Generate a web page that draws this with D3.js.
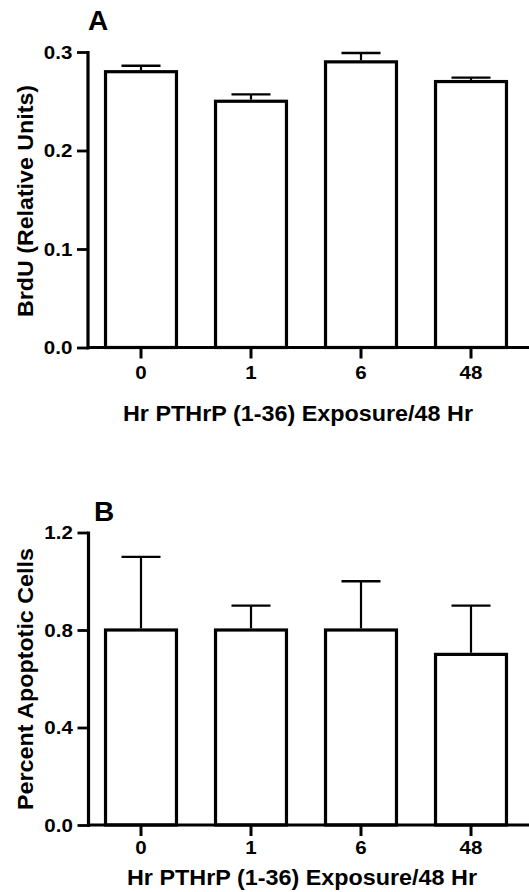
<!DOCTYPE html>
<html>
<head>
<meta charset="utf-8">
<script src="https://cdn.jsdelivr.net/npm/d3@7"></script>
<style>
  html, body { margin: 0; padding: 0; background: #fff; }
  svg { display: block; font-family: "Liberation Sans", Arial, Helvetica, sans-serif; }
</style>
</head>
<body>
<svg id="chart" width="529" height="892"></svg>
<script>
// ---- Data ----
const categories = ["0", "1", "6", "48"];
const brduValues = [0.28, 0.25, 0.29, 0.27];
const brduErrors = [0.006, 0.007, 0.009, 0.004];
const brduTicks = [0, 0.1, 0.2, 0.3];
const apoptosisValues = [0.8, 0.8, 0.8, 0.7];
const apoptosisErrors = [0.3, 0.1, 0.2, 0.2];
const apoptosisTicks = [0, 0.4, 0.8, 1.2];
const panelLetters = ["A", "B"];
const yTitles = ["BrdU (Relative Units)", "Percent Apoptotic Cells"];
const xTitle = "Hr PTHrP (1-36) Exposure/48 Hr";

// ---- Layout ----
const svg = d3.select("#chart");
const W = 529;
const SX = 1.08; // horizontal stretch of the reference glyphs

const panels = [
  { letter: panelLetters[0], values: brduValues, errors: brduErrors, ticks: brduTicks,
    fmt: d3.format(".1f"), yTop: 52, yBottom: 347.5, axisX: 87.5,
    yTitle: yTitles[0], yTitleY: 201, yTitleLen: 232,
    xLabelPad: 7.5, xTitleY: 421, xTitleX: 298, letterX: 88, letterY: 30 },
  { letter: panelLetters[1], values: apoptosisValues, errors: apoptosisErrors, ticks: apoptosisTicks,
    fmt: d3.format(".1f"), yTop: 532.5, yBottom: 825, axisX: 88,
    yTitle: yTitles[1], yTitleY: 679, yTitleLen: 262,
    xLabelPad: 5, xTitleY: 885, xTitleX: 302, letterX: 94, letterY: 521 }
];

panels.forEach(p => {
  const g = svg.append("g");
  const dom = [p.ticks[0], p.ticks[p.ticks.length - 1]];
  const y = d3.scaleLinear().domain(dom).range([p.yBottom, p.yTop]);
  const x = d3.scaleBand().domain(categories).range([86, 526])
    .paddingInner(0.355).paddingOuter(0.1775);

  // bars
  g.selectAll("rect.bar").data(p.values).join("rect")
    .attr("class", "bar")
    .attr("x", (d, i) => x(categories[i]))
    .attr("width", x.bandwidth())
    .attr("y", d => y(d))
    .attr("height", d => y(0) - y(d))
    .attr("fill", "#fff")
    .attr("stroke", "#000")
    .attr("stroke-width", 3.2);

  // error bars (upper only)
  const capW = 39;
  g.selectAll("line.err").data(p.values).join("line")
    .attr("class", "err")
    .attr("x1", (d, i) => x(categories[i]) + x.bandwidth() / 2)
    .attr("x2", (d, i) => x(categories[i]) + x.bandwidth() / 2)
    .attr("y1", d => y(d) - 1.6)
    .attr("y2", (d, i) => y(d + p.errors[i]))
    .attr("stroke", "#000").attr("stroke-width", 2.2);
  g.selectAll("line.cap").data(p.values).join("line")
    .attr("class", "cap")
    .attr("x1", (d, i) => x(categories[i]) + x.bandwidth() / 2 - capW / 2)
    .attr("x2", (d, i) => x(categories[i]) + x.bandwidth() / 2 + capW / 2)
    .attr("y1", (d, i) => y(d + p.errors[i]))
    .attr("y2", (d, i) => y(d + p.errors[i]))
    .attr("stroke", "#000").attr("stroke-width", 2.4);

  // x axis
  const xa = g.append("g").attr("transform", `translate(0,${p.yBottom})`)
    .call(d3.axisBottom(x).tickSize(11).tickPadding(p.xLabelPad).tickSizeOuter(0));
  xa.select(".domain").remove();
  xa.selectAll(".tick line").attr("stroke-width", 3);
  xa.selectAll(".tick text")
    .attr("font-size", 19).attr("font-weight", "bold").attr("fill", "#000")
    .attr("font-family", "Liberation Sans, Arial, sans-serif")
    .attr("transform", `scale(${SX},1)`);
  g.append("line")
    .attr("x1", p.axisX).attr("x2", W)
    .attr("y1", p.yBottom).attr("y2", p.yBottom)
    .attr("stroke", "#000").attr("stroke-width", 3.2);

  // y axis
  const ya = g.append("g").attr("transform", `translate(${p.axisX},0)`)
    .call(d3.axisLeft(y).tickValues(p.ticks).tickFormat(p.fmt)
      .tickSize(10.5).tickPadding(3.5).tickSizeOuter(0));
  ya.select(".domain").attr("stroke-width", 3.2).attr("stroke-linecap", "square");
  ya.selectAll(".tick line").attr("stroke-width", 2.8);
  ya.selectAll(".tick text")
    .attr("font-size", 19).attr("font-weight", "bold").attr("fill", "#000")
    .attr("font-family", "Liberation Sans, Arial, sans-serif")
    .attr("transform", `scale(${SX},1)`);

  // y title
  g.append("text")
    .attr("transform", `translate(33,${p.yTitleY}) rotate(-90)`)
    .attr("text-anchor", "middle")
    .attr("font-size", 22.5).attr("font-weight", "bold")
    .attr("textLength", p.yTitleLen).attr("lengthAdjust", "spacingAndGlyphs")
    .text(p.yTitle);

  // x title
  g.append("text")
    .attr("x", p.xTitleX).attr("y", p.xTitleY)
    .attr("text-anchor", "middle")
    .attr("font-size", 22).attr("font-weight", "bold")
    .attr("textLength", 350).attr("lengthAdjust", "spacingAndGlyphs")
    .text(xTitle);

  // panel letter
  g.append("text")
    .attr("x", p.letterX).attr("y", p.letterY)
    .attr("font-size", 28).attr("font-weight", "bold")
    .text(p.letter);
});
</script>
</body>
</html>
